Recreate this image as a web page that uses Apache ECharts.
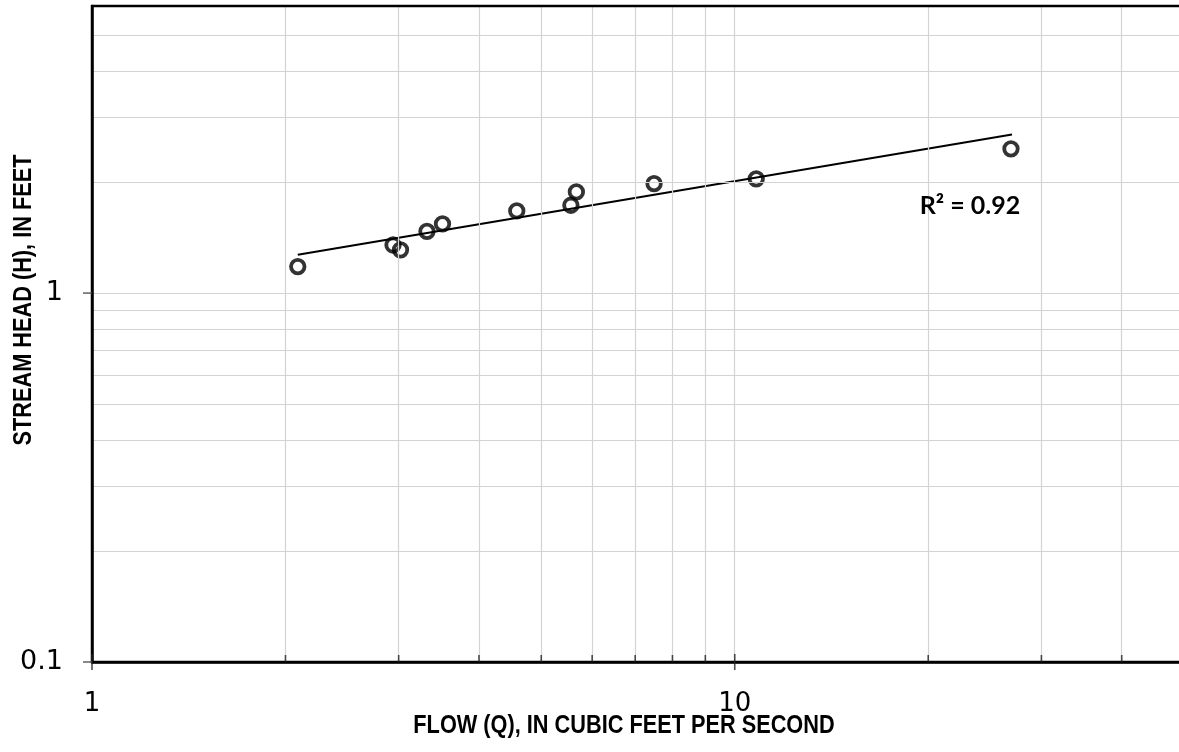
<!DOCTYPE html>
<html>
<head>
<meta charset="utf-8">
<title>Stream head vs flow</title>
<script src="https://cdn.jsdelivr.net/npm/echarts@6/dist/echarts.min.js"></script>
<style>
  html, body { margin: 0; padding: 0; background: #fff; }
  #chart { width: 1179px; height: 752px; }
</style>
</head>
<body>
<div id="chart"></div>
<script>
// Measured flow (Q, cfs) and stream head (H, ft)
const flowQ = [2.09, 2.94, 3.02, 3.32, 3.51, 4.58, 5.56, 5.67, 7.49, 10.8, 26.9];
const headH = [1.18, 1.35, 1.31, 1.47, 1.54, 1.67, 1.73, 1.88, 1.98, 2.04, 2.46];

// Power trend line end points
const trendQ = [2.09, 27.0];
const trendH = [1.27, 2.69];
const rSquaredText = 'R\u00B2 = 0.92';

// Axis ranges
const xRange = [1, 50];
const yRange = [0.1, 6];

// Tick labels
const xTickLabels = [1, 10];
const yTickLabels = [0.1, 1];

// Gridline positions
const xGridValues = [2, 3, 4, 5, 6, 7, 8, 9, 10, 20, 30, 40];
const yGridValues = [0.2, 0.3, 0.4, 0.5, 0.6, 0.7, 0.8, 0.9, 1, 2, 3, 4, 5];

// Tick mark positions
const xMinorTicks = [2, 3, 4, 5, 6, 7, 8, 9, 20, 30, 40];
const xMajorTicks = [1, 10];
const yMajorTicks = [0.1, 1];

const xTitle = 'FLOW (Q), IN CUBIC FEET PER SECOND';
const yTitle = 'STREAM HEAD (H), IN FEET';

const chart = echarts.init(document.getElementById('chart'), null, { renderer: 'canvas' });

function pickLabel(list) {
  return function (v) {
    for (const t of list) {
      if (Math.abs(v - t) / t < 1e-6) return String(t);
    }
    return '';
  };
}

const tickFont = '"DejaVu Sans", Verdana, sans-serif';

const option = {
  animation: false,
  backgroundColor: '#fff',
  grid: {
    left: 92, top: 6, width: 1092, height: 656,
    containLabel: false, outerBoundsMode: 'none',
    show: true, borderColor: '#000', borderWidth: 2.5,
    backgroundColor: 'transparent', z: 10
  },
  xAxis: {
    type: 'log', logBase: 10, min: xRange[0], max: xRange[1],
    z: 10,
    axisLine: { show: true, onZero: false, lineStyle: { color: '#000', width: 2.5 } },
    axisTick: { show: false },
    splitLine: { show: false },
    axisLabel: {
      formatter: pickLabel(xTickLabels), margin: 29,
      fontFamily: tickFont, fontSize: 26, color: '#000'
    }
  },
  yAxis: {
    type: 'log', logBase: 10, min: yRange[0], max: yRange[1],
    z: 10,
    axisLine: { show: true, onZero: false, lineStyle: { color: '#000', width: 2.5 } },
    axisTick: { show: false },
    splitLine: { show: false },
    axisLabel: {
      formatter: pickLabel(yTickLabels), margin: 29,
      fontFamily: tickFont, fontSize: 27, color: '#000'
    }
  },
  series: [
    {
      name: 'gridlines', type: 'line', data: [], silent: true, z: 1,
      markLine: {
        silent: true, symbol: 'none', animation: false,
        label: { show: false },
        lineStyle: { color: '#d3d3d3', width: 1.2, type: 'solid' },
        emphasis: { disabled: true },
        data: xGridValues.map(v => ({ xAxis: v }))
          .concat(yGridValues.map(v => ({ yAxis: v })))
      }
    },
    {
      name: 'minor x ticks', type: 'scatter', silent: true, clip: false, z: 11,
      symbol: 'rect', symbolSize: [1.6, 7], symbolOffset: [0, -3.5],
      itemStyle: { color: '#222' },
      data: xMinorTicks.map(v => [v, yRange[0]])
    },
    {
      name: 'major x ticks', type: 'scatter', silent: true, clip: false, z: 11,
      symbol: 'rect', symbolSize: [1.6, 16], symbolOffset: [0, 0],
      itemStyle: { color: '#222' },
      data: xMajorTicks.map(v => [v, yRange[0]])
    },
    {
      name: 'major y ticks', type: 'scatter', silent: true, clip: false, z: 11,
      symbol: 'rect', symbolSize: [9, 1.6], symbolOffset: [-4.5, 0],
      itemStyle: { color: '#444' },
      data: yMajorTicks.map(v => [xRange[0], v])
    },
    {
      name: 'trend', type: 'line', silent: true, z: 3,
      showSymbol: false, symbol: 'none',
      lineStyle: { color: '#000', width: 2 },
      data: trendQ.map((q, i) => [q, trendH[i]])
    },
    {
      name: 'observations', type: 'scatter', z: 4,
      symbol: 'circle', symbolSize: 13.5,
      itemStyle: { color: 'rgba(0,0,0,0)', borderColor: '#000', borderWidth: 3.8 },
      data: flowQ.map((q, i) => [q, headH[i]])
    }
  ],
  graphic: [
    {
      type: 'text', x: 624, y: 726, scaleX: 0.82, silent: true, z: 20,
      style: {
        text: xTitle, fill: '#000',
        font: 'bold 26.5px "Liberation Sans", Arial, sans-serif',
        textAlign: 'center', textVerticalAlign: 'middle'
      }
    },
    {
      type: 'text', x: 23.5, y: 300, rotation: Math.PI / 2, scaleX: 0.82, silent: true, z: 20,
      style: {
        text: yTitle, fill: '#000',
        font: 'bold 26.5px "Liberation Sans", Arial, sans-serif',
        textAlign: 'center', textVerticalAlign: 'middle'
      }
    },
    {
      type: 'text', x: 970, y: 206, silent: true, z: 20,
      style: {
        text: rSquaredText, fill: '#000',
        font: 'bold 25px Lato, "Open Sans", sans-serif',
        textAlign: 'center', textVerticalAlign: 'middle'
      }
    }
  ]
};

chart.setOption(option);
</script>
</body>
</html>
